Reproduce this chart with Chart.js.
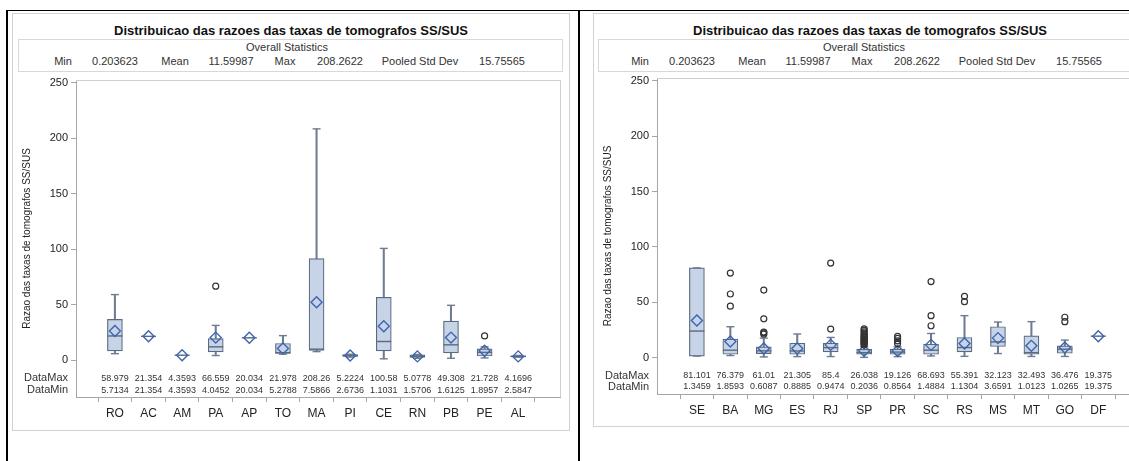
<!DOCTYPE html>
<html>
<head>
<meta charset="utf-8">
<script src="https://cdn.jsdelivr.net/npm/chart.js@4.4.1/dist/chart.umd.min.js"></script>
<style>
  html, body { margin: 0; padding: 0; background: #fff; }
  body { width: 1129px; height: 461px; overflow: hidden; position: relative;
         font-family: 'Liberation Sans', Arial, sans-serif; color: #222; }
  .rule  { position: absolute; background: #000; }
  .frame { position: absolute; border: 1px solid #d2d2d2; box-sizing: border-box; }
  .stats { position: absolute; border: 1px solid #d8d8d8; box-sizing: border-box; }
  .title { position: absolute; font-weight: bold; font-size: 13px; color: #111;
           white-space: nowrap; transform: translateX(-50%); }
  .st    { position: absolute; font-size: 11px; color: #333; white-space: nowrap;
           transform: translateX(-50%); }
  canvas { position: absolute; top: 0; }
</style>
</head>
<body>
<script>
// ---- shared texts ----
const chartTitle = 'Distribuicao das razoes das taxas de tomografos SS/SUS';
const statsHeading = 'Overall Statistics';
const statNames  = ['Min', 'Mean', 'Max', 'Pooled Std Dev'];
const statValues = ['0.203623', '11.59987', '208.2622', '15.75565'];
const yTicks = [0, 50, 100, 150, 200, 250];
const yTitle = 'Razao das taxas de tomografos SS/SUS';

// ---- first group of states ----
const statesA   = ['RO', 'AC', 'AM', 'PA', 'AP', 'TO', 'MA', 'PI', 'CE', 'RN', 'PB', 'PE', 'AL'];
const dataMaxA  = [58.979, 21.354, 4.3593, 66.559, 20.034, 21.978, 208.26, 5.2224, 100.58, 5.0778, 49.308, 21.728, 4.1696];
const dataMinA  = [5.7134, 21.354, 4.3593, 4.0452, 20.034, 5.2788, 7.5866, 2.6736, 1.1031, 1.5706, 1.6125, 1.8957, 2.5847];
const q1A       = [8.3, 21.354, 4.3593, 7.4, 20.034, 6.0, 8.6, 3.3, 8.3, 2.3, 6.5, 3.6, 2.9];
const medianA   = [21.7, 21.354, 4.3593, 11.9, 20.034, 6.6, 9.8, 4.0, 16.7, 3.4, 13.7, 6.9, 3.3];
const q3A       = [36.6, 21.354, 4.3593, 19.3, 20.034, 14.9, 91.4, 4.9, 56.5, 4.6, 35.1, 10.1, 3.8];
const meanA     = [26.2, 21.354, 4.3593, 20.2, 20.034, 10.4, 52.1, 4.1, 30.4, 3.3, 20.2, 8.3, 3.3];
// upper fence where the maximum lies beyond it (null: whisker reaches DataMax)
const fenceA    = [null, null, null, 31.2, null, null, null, null, null, null, null, 11.9, null];
const extraOutA = [[], [], [], [], [], [], [], [], [], [], [], [], []];

// ---- second group of states ----
const statesB   = ['SE', 'BA', 'MG', 'ES', 'RJ', 'SP', 'PR', 'SC', 'RS', 'MS', 'MT', 'GO', 'DF'];
const dataMaxB  = [81.101, 76.379, 61.01, 21.305, 85.4, 26.038, 19.126, 68.693, 55.391, 32.123, 32.493, 36.476, 19.375];
const dataMinB  = [1.3459, 1.8593, 0.6087, 0.8885, 0.9474, 0.2036, 0.8564, 1.4884, 1.1304, 3.6591, 1.0123, 1.0265, 19.375];
const q1B       = [1.35, 3.0, 3.6, 3.0, 5.2, 3.0, 3.0, 3.0, 5.2, 10.0, 3.0, 3.9, 19.375];
const medianB   = [24.0, 6.7, 6.1, 6.0, 9.0, 4.5, 5.0, 6.7, 9.1, 14.2, 4.5, 7.6, 19.375];
const q3B       = [81.101, 16.7, 9.7, 13.0, 13.0, 7.5, 7.6, 12.1, 18.2, 27.9, 19.7, 10.6, 19.375];
const meanB     = [33.5, 14.5, 8.2, 8.2, 11.5, 6.2, 6.0, 11.5, 12.7, 17.6, 10.6, 9.1, 19.375];
const fenceB    = [null, 27.9, 17.6, null, 18.2, 9.8, 9.7, 21.8, 37.9, null, null, 15.8, null];
const extraOutB = [
  [], [46.5, 57.5], [21.2, 22.4, 23.1, 35.0], [], [25.8],
  [11.3, 12.2, 13.0, 13.8, 14.6, 15.4, 16.2, 17.0, 17.9, 18.8, 19.7, 20.8, 22.0, 23.3, 24.6],
  [12.7, 15.2, 17.3], [28.8, 37.9], [50.5], [], [], [32.5], []
];

// ---- styling ----
const FONT = "'Liberation Sans', Arial, sans-serif";
const BOX_FILL = '#c7d4e8';
const BOX_LINE = '#5b6a7e';
const WHISKER = '#6e7d91';
const MEAN_LINE = '#3d64b0';
const AXIS = '#a6a6a6';

function el(cls, css, text) {
  const d = document.createElement('div');
  d.className = cls;
  Object.assign(d.style, css);
  if (text !== undefined) d.textContent = text;
  document.body.appendChild(d);
  return d;
}

function buildPanel(g, s) {
  // frame, title and statistics strip
  el('frame', { left: g.frame[0] + 'px', top: g.frame[1] + 'px', width: g.frame[2] + 'px', height: g.frame[3] + 'px' });
  el('title', { left: g.titleX + 'px', top: g.titleY + 'px' }, chartTitle);
  el('stats', { left: g.stats[0] + 'px', top: g.stats[1] + 'px', width: g.stats[2] + 'px', height: g.stats[3] + 'px' });
  el('st', { left: g.headX + 'px', top: g.headY + 'px' }, statsHeading);
  statNames.forEach((n, k) => {
    el('st', { left: g.statX[2 * k] + 'px', top: g.rowY + 'px' }, n);
    el('st', { left: g.statX[2 * k + 1] + 'px', top: g.rowY + 'px' }, statValues[k]);
  });

  const cv = document.createElement('canvas');
  cv.style.left = g.canvasLeft + 'px';
  cv.style.width = g.canvasW + 'px';
  cv.style.height = '461px';
  cv.width = g.canvasW; cv.height = 461;
  document.body.appendChild(cv);

  const idx = s.cats.map((_, i) => i);
  const hi = idx.map(i => s.fence[i] ?? s.dataMax[i]);
  const capsData = [];
  idx.forEach(i => {
    if (s.dataMax[i] !== s.dataMin[i]) {
      capsData.push({ x: i, y: hi[i] });
      capsData.push({ x: i, y: s.dataMin[i] });
    }
  });
  const outData = [];
  idx.forEach(i => {
    s.extra[i].forEach(v => outData.push({ x: i, y: v }));
    if (s.fence[i] !== null) outData.push({ x: i, y: s.dataMax[i] });
  });

  const frameLines = {
    id: 'frameLines',
    beforeDatasetsDraw(chart) {
      const { ctx, chartArea: a, scales } = chart;
      ctx.save();
      ctx.strokeStyle = '#cfcfcf';
      ctx.lineWidth = 1;
      ctx.beginPath();
      ctx.moveTo(a.left, a.top + 0.5); ctx.lineTo(a.right + 0.5, a.top + 0.5);
      ctx.lineTo(a.right + 0.5, a.bottom);
      ctx.stroke();
      // DataMax / DataMin rows
      const y0 = scales.y.getPixelForValue(0);
      ctx.fillStyle = '#333';
      ctx.textBaseline = 'middle';
      ctx.font = '11px ' + FONT;
      ctx.textAlign = 'right';
      ctx.fillText('DataMax', a.left - 8, y0 + g.rowMax);
      ctx.fillText('DataMin', a.left - 8, y0 + g.rowMin);
      ctx.font = '9px ' + FONT;
      ctx.textAlign = 'center';
      idx.forEach(i => {
        const x = scales.x.getPixelForValue(i);
        ctx.fillText(String(s.dataMax[i]), x, y0 + g.rowMax);
        ctx.fillText(String(s.dataMin[i]), x, y0 + g.rowMin);
      });
      ctx.restore();
    }
  };

  new Chart(cv, {
    type: 'bar',
    data: {
      datasets: [
        { type: 'bar', data: idx.map(i => ({ x: i, y: [s.dataMin[i], hi[i]] })),
          backgroundColor: WHISKER, barThickness: 1.4, grouped: false, order: 6 },
        { type: 'bar', data: idx.map(i => ({ x: i, y: [s.q1[i], s.q3[i]] })),
          backgroundColor: BOX_FILL, borderColor: BOX_LINE, borderWidth: 1.2,
          borderSkipped: false, barThickness: 15, grouped: false, order: 5 },
        { type: 'scatter', data: capsData, pointStyle: 'line', pointRadius: 4,
          borderColor: WHISKER, borderWidth: 1.4, order: 4 },
        { type: 'scatter', data: idx.map(i => ({ x: i, y: s.median[i] })), pointStyle: 'line',
          pointRadius: 7.5, borderColor: BOX_LINE, borderWidth: 1.4, order: 3 },
        { type: 'scatter', data: idx.map(i => ({ x: i, y: s.mean[i] })), pointStyle: 'rectRot',
          pointRadius: 5.5, borderColor: MEAN_LINE, backgroundColor: 'rgba(0,0,0,0)',
          borderWidth: 1.4, order: 2 },
        { type: 'scatter', data: outData, pointStyle: 'circle', pointRadius: 3,
          borderColor: '#333', backgroundColor: 'rgba(255,255,255,0)', borderWidth: 1.2, order: 1 }
      ]
    },
    options: {
      responsive: false,
      animation: false,
      events: [],
      layout: { padding: { left: 0, top: g.area.top, right: g.canvasW - g.area.right, bottom: 461 - g.area.bottom - 30 } },
      plugins: { legend: { display: false }, tooltip: { enabled: false } },
      scales: {
        x: {
          type: 'linear', min: g.xMin, max: g.xMax,
          afterBuildTicks: sc => { sc.ticks = idx.map(i => ({ value: i })); },
          afterFit: sc => { sc.height = 30; },
          ticks: { autoSkip: false, maxRotation: 0, padding: 4, color: '#222',
                   font: { family: FONT, size: 12 }, callback: v => s.cats[v] },
          grid: { drawOnChartArea: false, drawTicks: true, tickLength: 5, color: AXIS },
          border: { color: AXIS }
        },
        y: {
          type: 'linear', min: g.yMin, max: g.yMax,
          afterBuildTicks: sc => { sc.ticks = yTicks.map(v => ({ value: v })); },
          afterFit: sc => { sc.width = g.area.left; },
          ticks: { padding: 3, color: '#222', font: { family: FONT, size: 11 } },
          grid: { drawOnChartArea: false, drawTicks: true, tickLength: 5, color: AXIS },
          border: { color: AXIS },
          title: { display: true, text: yTitle, color: '#222', padding: { top: 21, bottom: 0 },
                   font: { family: "'Liberation Sans Narrow', 'Liberation Sans', Arial, sans-serif", size: 10 } }
        }
      }
    },
    plugins: [frameLines]
  });
}

// outer page rules
el('rule', { left: '6px', top: '10px', width: '2px', height: '451px' });
el('rule', { left: '6px', top: '10px', width: '1123px', height: '1px' });
el('rule', { left: '578px', top: '10px', width: '2px', height: '451px' });

buildPanel({
  canvasLeft: 0, canvasW: 578,
  area: { left: 76, right: 560, top: 80, bottom: 397 },
  xMin: -0.604, xMax: 12.69, yMin: -33.3, yMax: 252.3,
  frame: [12, 13, 558, 418],
  titleX: 291, titleY: 23,
  stats: [18, 39, 545, 33], headX: 287, headY: 41, rowY: 55,
  statX: [63, 115, 175, 231, 285, 340, 420, 502],
  rowMax: 18, rowMin: 30
}, { cats: statesA, dataMax: dataMaxA, dataMin: dataMinA, q1: q1A, median: medianA, q3: q3A,
     mean: meanA, fence: fenceA, extra: extraOutA });

buildPanel({
  canvasLeft: 581, canvasW: 600,
  area: { left: 76, right: 560, top: 78, bottom: 394 },
  xMin: -0.636, xMax: 12.72, yMin: -32.9, yMax: 252.7,
  frame: [593, 13, 580, 414],
  titleX: 870, titleY: 23,
  stats: [598, 39, 545, 33], headX: 864, headY: 41, rowY: 55,
  statX: [640, 692, 752, 808, 862, 917, 997, 1079],
  rowMax: 18.4, rowMin: 29.4
}, { cats: statesB, dataMax: dataMaxB, dataMin: dataMinB, q1: q1B, median: medianB, q3: q3B,
     mean: meanB, fence: fenceB, extra: extraOutB });
</script>
</body>
</html>
